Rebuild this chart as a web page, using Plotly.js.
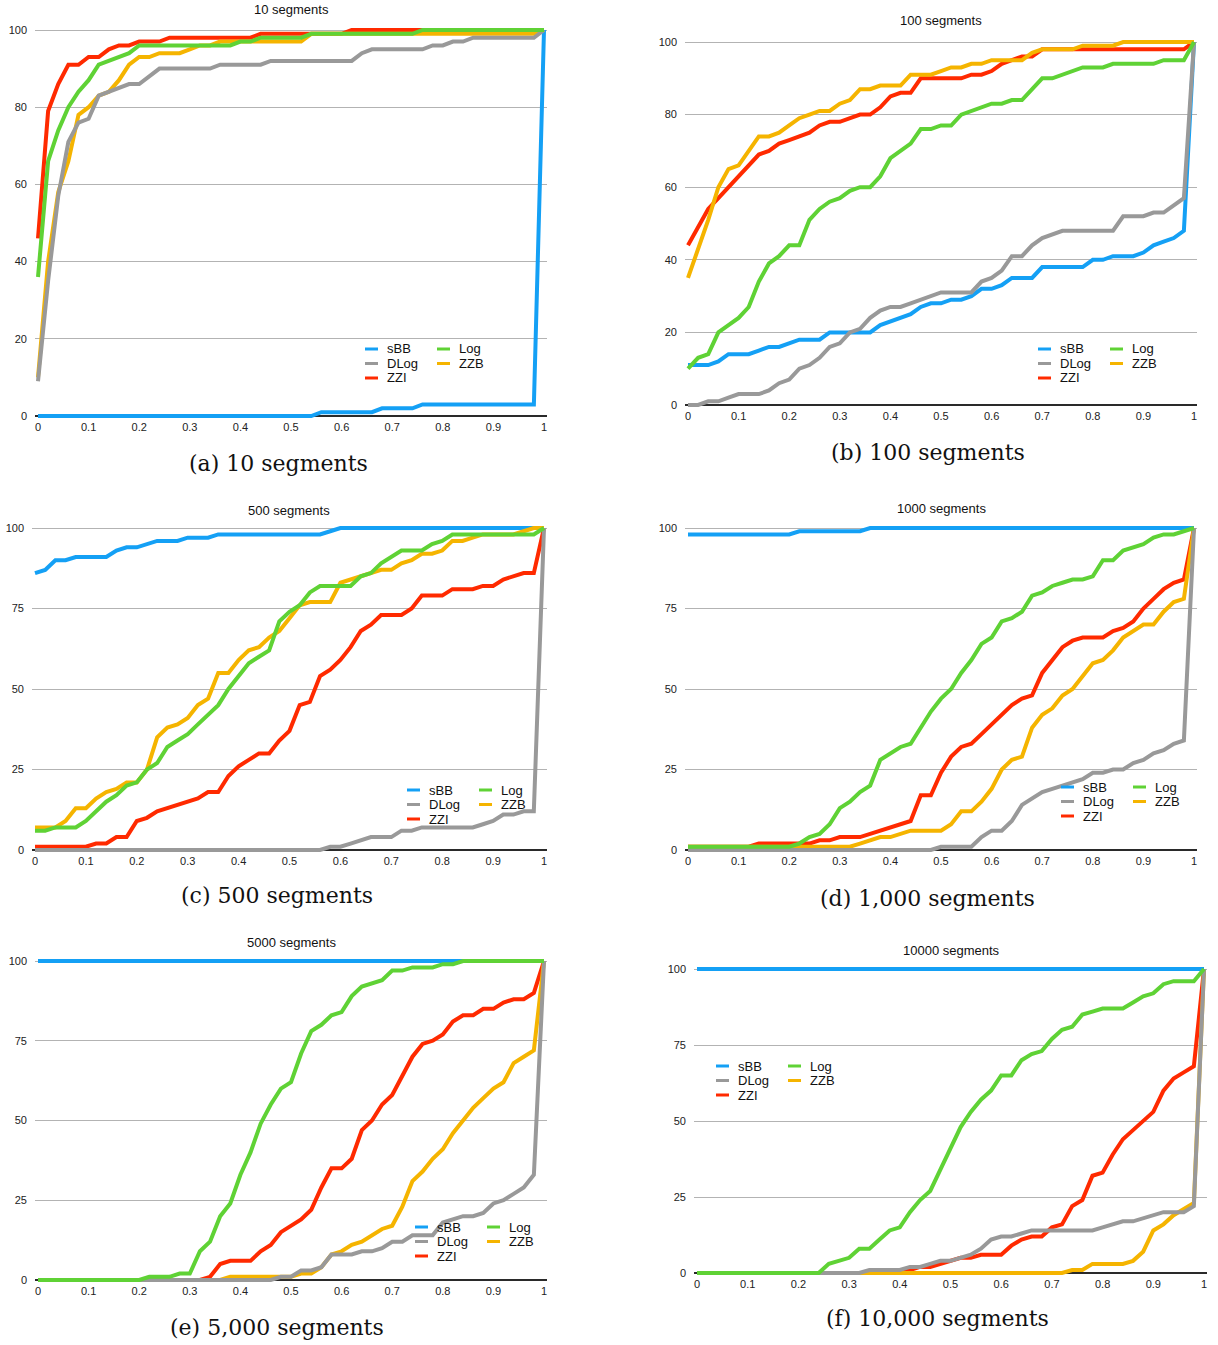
<!DOCTYPE html>
<html>
<head>
<meta charset="utf-8">
<script src="https://cdn.plot.ly/plotly-3.0.1.min.js"></script>
<style>
html,body{margin:0;padding:0;background:#fff;}
#chart{width:1218px;height:1345px;}
</style>
</head>
<body>
<div id="chart"></div>
<script>
// ---- x grid (fraction) ----
const X = [0,0.02,0.04,0.06,0.08,0.1,0.12,0.14,0.16,0.18,0.2,0.22,0.24,0.26,0.28,0.3,0.32,0.34,0.36,0.38,0.4,0.42,0.44,0.46,0.48,0.5,0.52,0.54,0.56,0.58,0.6,0.62,0.64,0.66,0.68,0.7,0.72,0.74,0.76,0.78,0.8,0.82,0.84,0.86,0.88,0.9,0.92,0.94,0.96,0.98,1];

const SERIES = ['sBB','DLog','ZZI','Log','ZZB'];
const COLORS = {sBB:'#14a0f5', DLog:'#999999', ZZI:'#ff2a00', Log:'#5fd235', ZZB:'#f5b400'};
const DRAW_ORDER = ['sBB','ZZI','ZZB','DLog','Log'];

const TITLES = ['10 segments','100 segments','500 segments','1000 segments','5000 segments','10000 segments'];
const CAPTIONS = ['(a) 10 segments','(b) 100 segments','(c) 500 segments','(d) 1,000 segments','(e) 5,000 segments','(f) 10,000 segments'];

// ---- (a) 10 segments ----
const a_sBB  = [0,0,0,0,0,0,0,0,0,0, 0,0,0,0,0,0,0,0,0,0, 0,0,0,0,0,0,0,0,1,1, 1,1,1,1,2,2,2,2,3,3, 3,3,3,3,3,3,3,3,3,3, 100];
const a_DLog = [9,35,57,71,76,77,83,84,85,86, 86,88,90,90,90,90,90,90,91,91, 91,91,91,92,92,92,92,92,92,92, 92,92,94,95,95,95,95,95,95,96, 96,97,97,98,98,98,98,98,98,98, 100];
const a_ZZI  = [46,79,86,91,91,93,93,95,96,96, 97,97,97,98,98,98,98,98,98,98, 98,98,99,99,99,99,99,99,99,99, 99,100,100,100,100,100,100,100,100,100, 100,100,100,100,100,100,100,100,100,100, 100];
const a_Log  = [36,66,74,80,84,87,91,92,93,94, 96,96,96,96,96,96,96,96,96,96, 97,97,98,98,98,98,98,99,99,99, 99,99,99,99,99,99,99,99,100,100, 100,100,100,100,100,100,100,100,100,100, 100];
const a_ZZB  = [10,40,58,66,78,80,83,84,87,91, 93,93,94,94,94,95,96,96,97,97, 97,97,97,97,97,97,97,99,99,99, 99,99,99,99,99,99,99,99,99,99, 99,99,99,99,99,99,99,99,99,99, 100];

// ---- (b) 100 segments ----
const b_sBB  = [11,11,11,12,14,14,14,15,16,16, 17,18,18,18,20,20,20,20,20,22, 23,24,25,27,28,28,29,29,30,32, 32,33,35,35,35,38,38,38,38,38, 40,40,41,41,41,42,44,45,46,48, 100];
const b_DLog = [0,0,1,1,2,3,3,3,4,6, 7,10,11,13,16,17,20,21,24,26, 27,27,28,29,30,31,31,31,31,34, 35,37,41,41,44,46,47,48,48,48, 48,48,48,52,52,52,53,53,55,57, 100];
const b_ZZI  = [44,49,54,57,60,63,66,69,70,72, 73,74,75,77,78,78,79,80,80,82, 85,86,86,90,90,90,90,90,91,91, 92,94,95,96,96,98,98,98,98,98, 98,98,98,98,98,98,98,98,98,98, 100];
const b_Log  = [10,13,14,20,22,24,27,34,39,41, 44,44,51,54,56,57,59,60,60,63, 68,70,72,76,76,77,77,80,81,82, 83,83,84,84,87,90,90,91,92,93, 93,93,94,94,94,94,94,95,95,95, 100];
const b_ZZB  = [35,43,51,60,65,66,70,74,74,75, 77,79,80,81,81,83,84,87,87,88, 88,88,91,91,91,92,93,93,94,94, 95,95,95,95,97,98,98,98,98,99, 99,99,99,100,100,100,100,100,100,100, 100];

// ---- (c) 500 segments ----
const c_sBB  = [86,87,90,90,91,91,91,91,93,94, 94,95,96,96,96,97,97,97,98,98, 98,98,98,98,98,98,98,98,98,99, 100,100,100,100,100,100,100,100,100,100, 100,100,100,100,100,100,100,100,100,100, 100];
const c_DLog = [0,0,0,0,0,0,0,0,0,0, 0,0,0,0,0,0,0,0,0,0, 0,0,0,0,0,0,0,0,0,1, 1,2,3,4,4,4,6,6,7,7, 7,7,7,7,8,9,11,11,12,12, 100];
const c_ZZI  = [1,1,1,1,1,1,2,2,4,4, 9,10,12,13,14,15,16,18,18,23, 26,28,30,30,34,37,45,46,54,56, 59,63,68,70,73,73,73,75,79,79, 79,81,81,81,82,82,84,85,86,86, 100];
const c_Log  = [6,6,7,7,7,9,12,15,17,20, 21,25,27,32,34,36,39,42,45,50, 54,58,60,62,71,74,76,80,82,82, 82,82,85,86,89,91,93,93,93,95, 96,98,98,98,98,98,98,98,98,98, 100];
const c_ZZB  = [7,7,7,9,13,13,16,18,19,21, 21,25,35,38,39,41,45,47,55,55, 59,62,63,66,68,72,76,77,77,77, 83,84,85,86,87,87,89,90,92,92, 93,96,96,97,98,98,98,98,99,100, 100];

// ---- (d) 1,000 segments ----
const d_sBB  = [98,98,98,98,98,98,98,98,98,98, 98,99,99,99,99,99,99,99,100,100, 100,100,100,100,100,100,100,100,100,100, 100,100,100,100,100,100,100,100,100,100, 100,100,100,100,100,100,100,100,100,100, 100];
const d_DLog = [0,0,0,0,0,0,0,0,0,0, 0,0,0,0,0,0,0,0,0,0, 0,0,0,0,0,1,1,1,1,4, 6,6,9,14,16,18,19,20,21,22, 24,24,25,25,27,28,30,31,33,34, 100];
const d_ZZI  = [1,1,1,1,1,1,1,2,2,2, 2,2,2,3,3,4,4,4,5,6, 7,8,9,17,17,24,29,32,33,36, 39,42,45,47,48,55,59,63,65,66, 66,66,68,69,71,75,78,81,83,84, 100];
const d_Log  = [1,1,1,1,1,1,1,1,1,1, 1,2,4,5,8,13,15,18,20,28, 30,32,33,38,43,47,50,55,59,64, 66,71,72,74,79,80,82,83,84,84, 85,90,90,93,94,95,97,98,98,99, 100];
const d_ZZB  = [1,1,1,1,1,1,1,1,1,1, 1,1,1,1,1,1,1,2,3,4, 4,5,6,6,6,6,8,12,12,15, 19,25,28,29,38,42,44,48,50,54, 58,59,62,66,68,70,70,74,77,78, 100];

// ---- (e) 5,000 segments ----
const e_sBB  = [100,100,100,100,100,100,100,100,100,100, 100,100,100,100,100,100,100,100,100,100, 100,100,100,100,100,100,100,100,100,100, 100,100,100,100,100,100,100,100,100,100, 100,100,100,100,100,100,100,100,100,100, 100];
const e_DLog = [0,0,0,0,0,0,0,0,0,0, 0,0,0,0,0,0,0,0,0,0, 0,0,0,0,1,1,3,3,4,8, 8,8,9,9,10,12,12,14,14,14, 18,19,20,20,21,24,25,27,29,33, 100];
const e_ZZI  = [0,0,0,0,0,0,0,0,0,0, 0,0,0,0,0,0,0,1,5,6, 6,6,9,11,15,17,19,22,29,35, 35,38,47,50,55,58,64,70,74,75, 77,81,83,83,85,85,87,88,88,90, 100];
const e_Log  = [0,0,0,0,0,0,0,0,0,0, 0,1,1,1,2,2,9,12,20,24, 33,40,49,55,60,62,71,78,80,83, 84,89,92,93,94,97,97,98,98,98, 99,99,100,100,100,100,100,100,100,100, 100];
const e_ZZB  = [0,0,0,0,0,0,0,0,0,0, 0,0,0,0,0,0,0,0,0,1, 1,1,1,1,1,1,2,2,4,8, 9,11,12,14,16,17,23,31,34,38, 41,46,50,54,57,60,62,68,70,72, 100];

// ---- (f) 10,000 segments ----
const f_sBB  = [100,100,100,100,100,100,100,100,100,100, 100,100,100,100,100,100,100,100,100,100, 100,100,100,100,100,100,100,100,100,100, 100,100,100,100,100,100,100,100,100,100, 100,100,100,100,100,100,100,100,100,100, 100];
const f_DLog = [0,0,0,0,0,0,0,0,0,0, 0,0,0,0,0,0,0,1,1,1, 1,2,2,3,4,4,5,6,8,11, 12,12,13,14,14,14,14,14,14,14, 15,16,17,17,18,19,20,20,20,22, 100];
const f_ZZI  = [0,0,0,0,0,0,0,0,0,0, 0,0,0,0,0,0,0,0,0,0, 0,1,2,2,3,4,5,5,6,6, 6,9,11,12,12,15,16,22,24,32, 33,39,44,47,50,53,60,64,66,68, 100];
const f_Log  = [0,0,0,0,0,0,0,0,0,0, 0,0,0,3,4,5,8,8,11,14, 15,20,24,27,34,41,48,53,57,60, 65,65,70,72,73,77,80,81,85,86, 87,87,87,89,91,92,95,96,96,96, 100];
const f_ZZB  = [0,0,0,0,0,0,0,0,0,0, 0,0,0,0,0,0,0,0,0,0, 0,0,0,0,0,0,0,0,0,0, 0,0,0,0,0,0,0,1,1,3, 3,3,3,4,7,14,16,19,21,23, 100];

const DATA = [
  {sBB:a_sBB, DLog:a_DLog, ZZI:a_ZZI, Log:a_Log, ZZB:a_ZZB},
  {sBB:b_sBB, DLog:b_DLog, ZZI:b_ZZI, Log:b_Log, ZZB:b_ZZB},
  {sBB:c_sBB, DLog:c_DLog, ZZI:c_ZZI, Log:c_Log, ZZB:c_ZZB},
  {sBB:d_sBB, DLog:d_DLog, ZZI:d_ZZI, Log:d_Log, ZZB:d_ZZB},
  {sBB:e_sBB, DLog:e_DLog, ZZI:e_ZZI, Log:e_Log, ZZB:e_ZZB},
  {sBB:f_sBB, DLog:f_DLog, ZZI:f_ZZI, Log:f_Log, ZZB:f_ZZB}
];

// ---- layout geometry (pixels) ----
const W = 1218, H = 1345;
const GEOM = [
  {x0:38,  x1:544,  y100:30,  y0:416,  dtick:20, titleX:291, titleY:9,   capX:278, capY:464,  legX:365,  legY:349},
  {x0:688, x1:1194, y100:42,  y0:405,  dtick:20, titleX:941, titleY:21,  capX:928, capY:452,  legX:1038, legY:349},
  {x0:35,  x1:544,  y100:528, y0:850,  dtick:25, titleX:289, titleY:510, capX:277, capY:895,  legX:407,  legY:790},
  {x0:688, x1:1194, y100:528, y0:850,  dtick:25, titleX:941, titleY:508, capX:927, capY:898,  legX:1061, legY:787},
  {x0:38,  x1:544,  y100:961, y0:1280, dtick:25, titleX:291, titleY:942, capX:277, capY:1327, legX:415,  legY:1227},
  {x0:697, x1:1204, y100:969, y0:1273, dtick:25, titleX:951, titleY:950, capX:937, capY:1318, legX:716,  legY:1066}
];
const PAD = 3;
const LEG_POS = {sBB:[0,0], DLog:[0,1], ZZI:[0,2], Log:[1,0], ZZB:[1,1]};
const LEG_COLDX = 72, LEG_ROWDY = 14.5, LEG_LINE = 13, LEG_TXT = 20;

const traces = [];
const layout = {
  width: W, height: H,
  margin: {l:0, r:0, t:0, b:0},
  paper_bgcolor: '#ffffff',
  plot_bgcolor: 'rgba(0,0,0,0)',
  showlegend: false,
  font: {family: 'Liberation Sans, Arial, Helvetica, sans-serif', color: '#222'},
  annotations: [],
  shapes: []
};

const px = v => v / W;
const py = v => 1 - v / H;

GEOM.forEach((g, i) => {
  const n = i === 0 ? '' : String(i + 1);
  const xa = 'x' + n, ya = 'y' + n;
  const kx = g.x1 - g.x0;
  const ky = (g.y0 - g.y100) / 100;

  layout['xaxis' + n] = {
    domain: [px(g.x0 - PAD), px(g.x1 + PAD)],
    range: [-PAD / kx, 1 + PAD / kx],
    anchor: ya,
    showgrid: false,
    zeroline: false,
    showline: false,
    tickmode: 'linear', tick0: 0, dtick: 0.1,
    ticks: '',
    tickfont: {size: 11, color: '#222'},
    fixedrange: true
  };
  layout['yaxis' + n] = {
    domain: [py(g.y0 + PAD), py(g.y100 - PAD)],
    range: [-PAD / ky, 100 + PAD / ky],
    anchor: xa,
    showgrid: true, gridcolor: '#b3b3b3', gridwidth: 1,
    zeroline: true, zerolinecolor: '#2a2a2a', zerolinewidth: 1.2,
    showline: false,
    tickmode: 'linear', tick0: 0, dtick: g.dtick,
    ticks: '',
    ticklabelstandoff: 7,
    tickfont: {size: 11, color: '#222'},
    fixedrange: true
  };

  DRAW_ORDER.forEach(s => {
    traces.push({
      type: 'scatter', mode: 'lines',
      x: X, y: DATA[i][s],
      xaxis: xa, yaxis: ya,
      name: s,
      line: {color: COLORS[s], width: 4},
      hoverinfo: 'skip'
    });
  });

  // chart title
  layout.annotations.push({
    text: TITLES[i], xref: 'paper', yref: 'paper',
    x: px(g.titleX), y: py(g.titleY), xanchor: 'center', yanchor: 'middle',
    showarrow: false, font: {size: 13, color: '#111'}
  });
  // caption
  layout.annotations.push({
    text: CAPTIONS[i], xref: 'paper', yref: 'paper',
    x: px(g.capX), y: py(g.capY), xanchor: 'center', yanchor: 'middle',
    showarrow: false, font: {size: 22, color: '#111', family: 'DejaVu Serif, Liberation Serif, serif'}
  });
  // legend
  SERIES.forEach(s => {
    const [c, r] = LEG_POS[s];
    const lx = g.legX + c * LEG_COLDX;
    const ly = g.legY + r * LEG_ROWDY;
    layout.shapes.push({
      type: 'line', xref: 'paper', yref: 'paper',
      x0: px(lx), x1: px(lx + LEG_LINE), y0: py(ly), y1: py(ly),
      line: {color: COLORS[s], width: 3}
    });
    layout.annotations.push({
      text: s, xref: 'paper', yref: 'paper',
      x: px(lx + LEG_TXT), y: py(ly), xanchor: 'left', yanchor: 'middle',
      showarrow: false, font: {size: 13, color: '#111'}
    });
  });
});

Plotly.newPlot('chart', traces, layout, {staticPlot: true, displayModeBar: false});
</script>
</body>
</html>
